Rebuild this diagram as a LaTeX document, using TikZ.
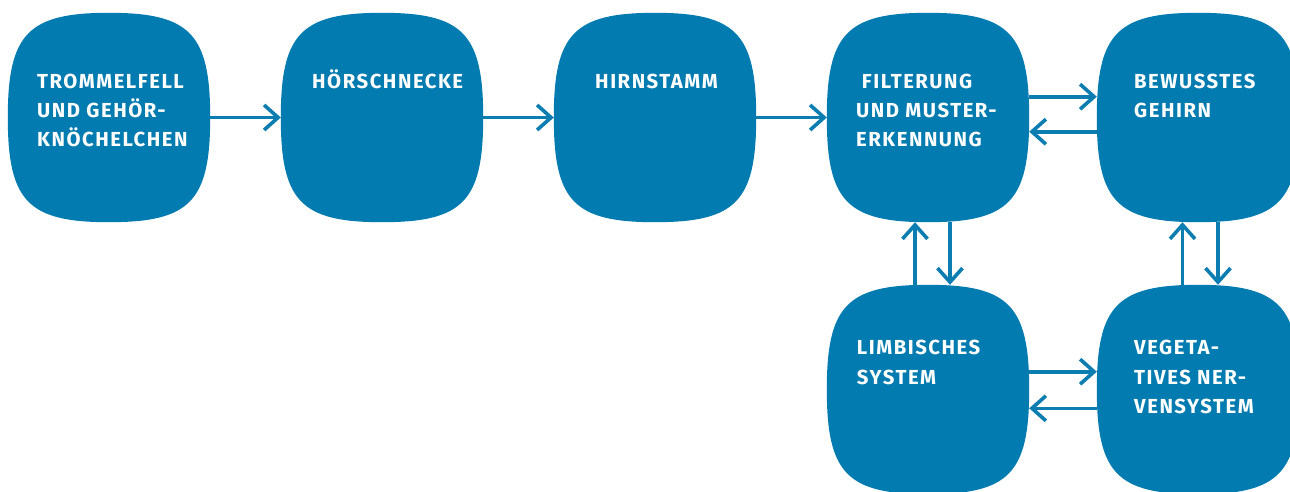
\documentclass[tikz,border=0pt]{standalone}
\usepackage{fontspec}
\setmainfont{Fira Sans}[LetterSpace=7.5]
\usetikzlibrary{arrows.meta,calc}
\definecolor{boxc}{HTML}{027BB0}
\definecolor{arrc}{HTML}{0B7DB1}
\tikzset{
  box/.style={rectangle, minimum width=202pt, minimum height=209pt, inner sep=0pt, draw=none},
  lbl/.style={anchor=base west, inner sep=0pt, align=left, text=white,
    font=\fontsize{20.3}{29.3}\selectfont\bfseries},
  arr/.style={draw=arrc, line width=3.6pt,
    -{Straight Barb[length=14pt,width=25pt,line width=3.6pt]}},
}
\newcommand\squircle[1]{%
  \fill[boxc] (#1.east)
   .. controls ($(#1.east)!0.8!(#1.north east)$) and ($(#1.north)!0.8!(#1.north east)$) .. (#1.north)
   .. controls ($(#1.north)!0.8!(#1.north west)$) and ($(#1.west)!0.8!(#1.north west)$) .. (#1.west)
   .. controls ($(#1.west)!0.8!(#1.south west)$) and ($(#1.south)!0.8!(#1.south west)$) .. (#1.south)
   .. controls ($(#1.south)!0.8!(#1.south east)$) and ($(#1.east)!0.8!(#1.south east)$) .. (#1.east) -- cycle;}
\begin{document}
\begin{tikzpicture}[x=1pt,y=-1pt]
\useasboundingbox (0,0) rectangle (1290,491);
\node[box] (b1) at (109,117.5) {};
\node[box] (b2) at (382,117.5) {};
\node[box] (b3) at (655,117.5) {};
\node[box] (b4) at (928,117.5) {};
\node[box] (b5) at (1198,117.5) {};
\node[box] (b6) at (928,389.5) {};
\node[box] (b7) at (1198,389.5) {};
\foreach \b in {b1,b2,b3,b4,b5,b6,b7} {\squircle{\b}}
\node[lbl] (t1) at (37,146.9) {TROMMELFELL\\UND GEHÖR-\\KNÖCHELCHEN};
\node[lbl] (t2) at (312,88.3) {HÖRSCHNECKE};
\node[lbl] (t3) at (595,88.3) {HIRNSTAMM};
\node[lbl] (t4) at (856,146.9) {\hspace{5.7pt}FILTERUNG\\UND MUSTER-\\ERKENNUNG};
\node[lbl] (t5) at (1134,117.6) {BEWUSSTES\\GEHIRN};
\node[lbl] (t6) at (856.7,384.2) {LIMBISCHES\\SYSTEM};
\node[lbl] (t7) at (1134,413.5) {VEGETA-\\TIVES NER-\\VENSYSTEM};
% first row
\draw[arr] (b1.east) -- (b2.west);
\draw[arr] (b2.east) -- (b3.west);
\draw[arr] (b3.east) -- (b4.west);
% b4 <-> b5
\draw[arr] ($(b4.east)+(0,-20.8)$) -- ($(b5.west)+(0,-20.8)$);
\draw[arr] ($(b5.west)+(0,14.2)$) -- ($(b4.east)+(0,14.2)$);
% b6 <-> b7
\draw[arr] ($(b6.east)+(0,-17.8)$) -- ($(b7.west)+(0,-17.8)$);
\draw[arr] ($(b7.west)+(0,18.8)$) -- ($(b6.east)+(0,18.8)$);
% vertical
\draw[arr] ($(b6.north)+(-13,0)$) -- ($(b4.south)+(-13,0)$);
\draw[arr] ($(b4.south)+(22,0)$) -- ($(b6.north)+(22,0)$);
\draw[arr] ($(b7.north)+(-15.5,0)$) -- ($(b5.south)+(-15.5,0)$);
\draw[arr] ($(b5.south)+(20,0)$) -- ($(b7.north)+(20,0)$);
\end{tikzpicture}
\end{document}
